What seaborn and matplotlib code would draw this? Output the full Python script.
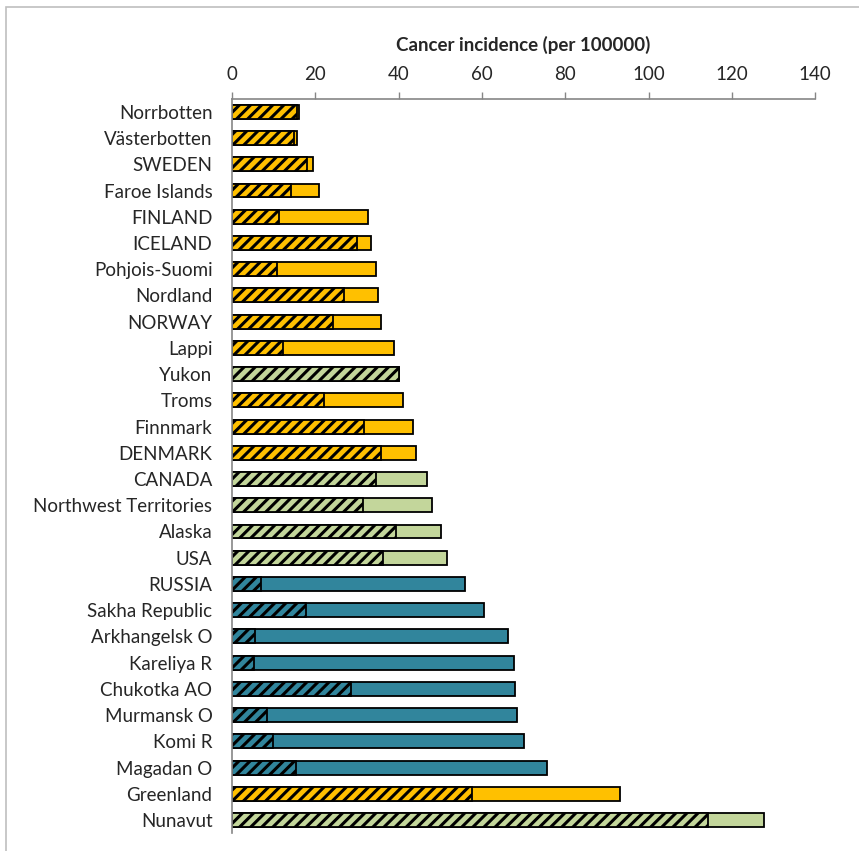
import pandas as pd
import matplotlib
matplotlib.use("Agg")
import matplotlib.pyplot as plt
import seaborn as sns
from matplotlib.patches import Rectangle

# ============================================
# DATA
# ============================================

regions = [
    "Norrbotten", "Västerbotten", "SWEDEN", "Faroe Islands", "FINLAND",
    "ICELAND", "Pohjois-Suomi", "Nordland", "NORWAY", "Lappi", "Yukon",
    "Troms", "Finnmark", "DENMARK", "CANADA", "Northwest Territories",
    "Alaska", "USA", "RUSSIA", "Sakha Republic", "Arkhangelsk O",
    "Kareliya R", "Chukotka AO", "Murmansk O", "Komi R", "Magadan O",
    "Greenland", "Nunavut",
]

groups = [
    "Nordic", "Nordic", "Nordic", "Nordic", "Nordic",
    "Nordic", "Nordic", "Nordic", "Nordic", "Nordic", "North America",
    "Nordic", "Nordic", "Nordic", "North America", "North America",
    "North America", "North America", "Russia", "Russia", "Russia",
    "Russia", "Russia", "Russia", "Russia", "Russia",
    "Nordic", "North America",
]

# total incidence (solid bar)
total = [
    16.0, 15.6, 19.5, 20.9, 32.7,
    33.4, 34.6, 35.1, 35.8, 38.9, 40.1,
    41.1, 43.4, 44.3, 46.8, 48.1,
    50.2, 51.7, 56.0, 60.5, 66.3,
    67.7, 67.9, 68.4, 70.1, 75.6,
    93.2, 127.8,
]

# hatched part of the bar
hatched = [
    15.6, 14.8, 18.0, 14.2, 11.3,
    30.0, 10.8, 26.9, 24.3, 12.2, 40.1,
    22.0, 31.7, 35.9, 34.6, 31.4,
    39.3, 36.3, 6.9, 17.8, 5.5,
    5.3, 28.7, 8.3, 9.9, 15.3,
    57.6, 114.3,
]

group_colors = {"Nordic": "#FFC000", "North America": "#C3D69B", "Russia": "#31859C"}

df = pd.DataFrame({"Region": regions, "Group": groups,
                   "Total": total, "Hatched": hatched})

# ============================================
# PLOT
# ============================================

sns.set_style("white")
plt.rcParams["font.family"] = ["Lato", "DejaVu Sans"]
plt.rcParams["hatch.linewidth"] = 2.2

fig = plt.figure(figsize=(8.59, 8.51), dpi=100)
ax = fig.add_axes([0.270, 0.021, 0.679, 0.863])

sns.barplot(data=df, y="Region", x="Total", hue="Group", palette=group_colors,
            order=regions, dodge=False, width=0.53, edgecolor="black",
            linewidth=1.3, saturation=1, legend=False, ax=ax)
n = len(ax.patches)
sns.barplot(data=df, y="Region", x="Hatched", hue="Group", palette=group_colors,
            order=regions, dodge=False, width=0.53, edgecolor="black",
            linewidth=1.3, saturation=1, legend=False, ax=ax)
for p in ax.patches[n:]:
    p.set_hatch("///")

ax.set_xlim(0, 140)
ax.set_ylim(27.5, -0.5)
ax.set_xticks(range(0, 141, 20))
ax.xaxis.tick_top()
ax.xaxis.set_label_position("top")
ax.set_xlabel("Cancer incidence (per 100000)", fontsize=13.5, fontweight="bold",
              labelpad=11)
ax.set_ylabel("")
ax.tick_params(axis="x", top=True, length=5, width=1, color="#868686",
               labelsize=13.5, pad=6)
ax.tick_params(axis="y", left=False, length=0, labelsize=13.5, pad=14)

for side in ["bottom", "right"]:
    ax.spines[side].set_visible(False)
for side in ["top", "left"]:
    ax.spines[side].set_color("#868686")
    ax.spines[side].set_linewidth(1.2)

# light frame around the chart area
fig.patches.append(Rectangle((0.007, -0.1), 1.2, 1.092, transform=fig.transFigure,
                             fill=False, edgecolor="#BFBFBF", linewidth=1.2))

plt.savefig("out.png", dpi=100)
